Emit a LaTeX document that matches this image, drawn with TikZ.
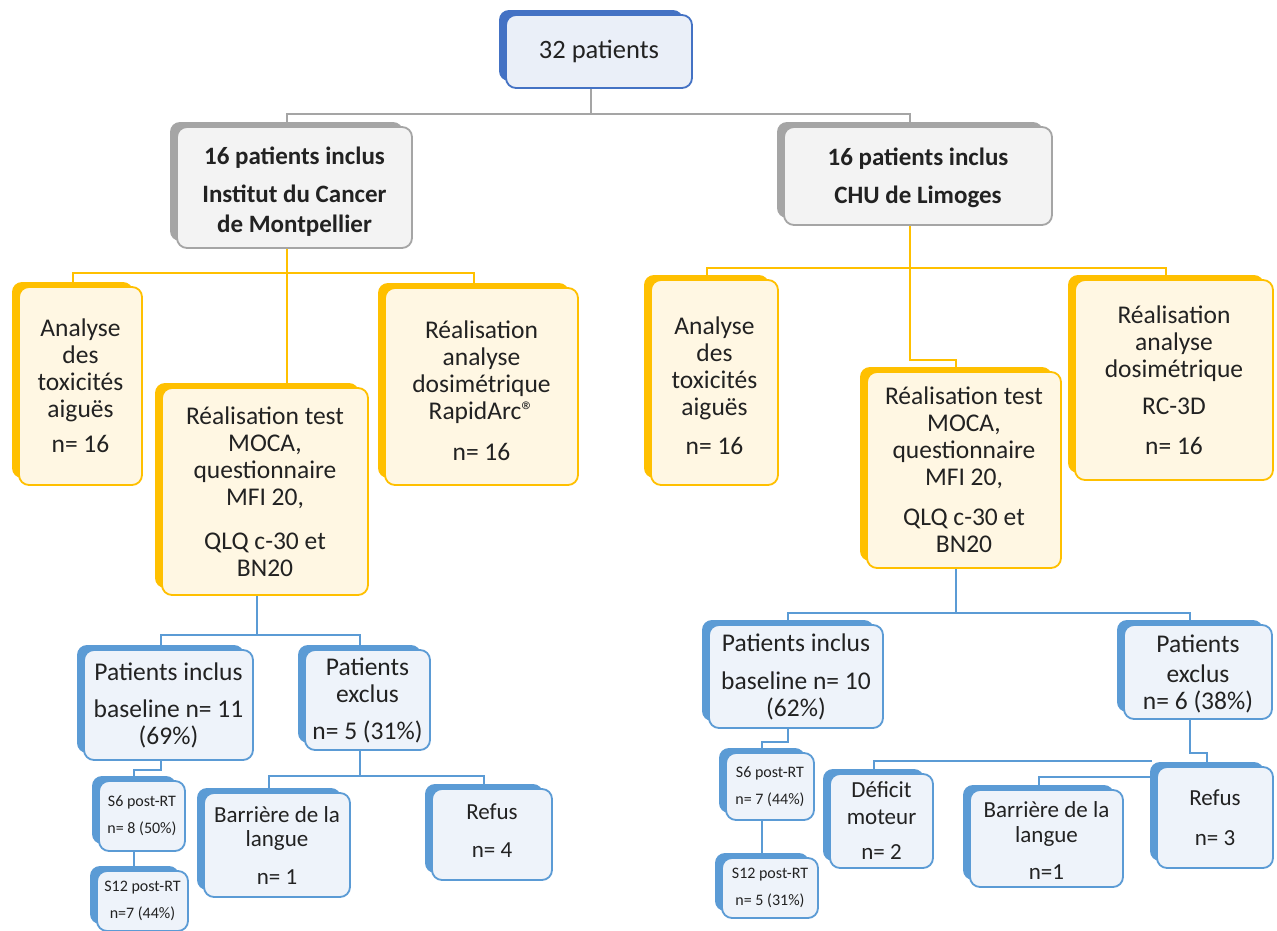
\documentclass[tikz,border=0pt]{standalone}
\usepackage{fontspec}
\setmainfont{Carlito}
\usetikzlibrary{calc,backgrounds}
\definecolor{gyD}{HTML}{A5A5A5}
\definecolor{gyL}{HTML}{F3F3F3}
\definecolor{buD}{HTML}{4472C4}
\definecolor{buL}{HTML}{EAEFF8}
\definecolor{ywD}{HTML}{FFC000}
\definecolor{ywL}{HTML}{FFF7E3}
\definecolor{lbD}{HTML}{5B9BD5}
\definecolor{lbL}{HTML}{EEF3FA}
\definecolor{txt}{HTML}{222222}
\newcommand\fT{\fontsize{26.5}{30}\selectfont}
\newcommand\fB{\fontsize{25}{30}\selectfont\bfseries}
\newcommand\fM{\fontsize{25.5}{27}\selectfont}
\newcommand\fN{\fontsize{23}{25}\selectfont}
\newcommand\fS{\fontsize{16}{27}\selectfont}
\tikzset{
  boxback/.style={rectangle, rounded corners=10pt, inner sep=0pt, outer sep=0pt, fill=#1},
  boxfront/.style={rectangle, rounded corners=10pt, inner sep=0pt, outer sep=0pt, draw=#1, line width=1.8pt},
  gline/.style={draw=gyD, line width=2pt},
  yline/.style={draw=ywD, line width=2pt},
  bline/.style={draw=lbD, line width=2pt},
}
\newcommand\mybox[9][0]{%
  \node[boxback=#3D, anchor=north west, minimum width={#6-#4-9}, minimum height={#7-#5-7}] (#2b) at (#4,#5) {};
  \node[boxfront=#3D, fill=#3L, anchor=north west, minimum width={#6-#4-7}, minimum height={#7-#5-5}] (#2) at ({#4+7},{#5+5}) {};
  \node[font=#8, text=txt, align=center, inner sep=0pt, yshift=-#1pt] (#2t) at (#2.center) {#9};
}
\begin{document}
\begin{tikzpicture}[x=1pt,y=-1pt]
\useasboundingbox (0,0) rectangle (1277,930);

\mybox{top}{bu}{499}{10}{692}{88}{\fT}{32 patients}
\mybox[4]{mont}{gy}{170}{122}{412}{248}{\fB}{16 patients inclus\\[8pt]Institut du Cancer\\de Montpellier}
\mybox[2]{lim}{gy}{777}{122}{1052}{225}{\fB}{16 patients inclus\\[8pt]CHU de Limoges}

\mybox{anaL}{yw}{12}{282}{142}{485}{\fM}{Analyse\\des\\toxicités\\aiguës\\[8pt]n= 16}
\mybox{mocaL}{yw}{155}{383}{368}{595}{\fM}{Réalisation test\\MOCA,\\questionnaire\\MFI 20,\\[17pt]QLQ c-30 et\\BN20}
\mybox[4]{rapid}{yw}{378}{283}{578}{485}{\fM}{Réalisation\\analyse\\dosimétrique\\RapidArc®\\[14pt]n= 16}
\mybox[3]{anaR}{yw}{644}{275}{778}{485}{\fM}{Analyse\\des\\toxicités\\aiguës\\[12pt]n= 16}
\mybox{mocaR}{yw}{860}{367}{1061}{568}{\fM}{Réalisation test\\MOCA,\\questionnaire\\MFI 20,\\[13pt]QLQ c-30 et\\BN20}
\mybox{rc}{yw}{1068}{275}{1273}{480}{\fM}{Réalisation\\analyse\\dosimétrique\\[10pt]RC-3D\\[13pt]n= 16}

\mybox{piL}{lb}{77}{645}{253}{760}{\fM}{Patients inclus\\[10pt]baseline n= 11\\(69\%)}
\mybox{peL}{lb}{298}{645}{430}{750}{\fM}{Patients\\exclus\\[10pt]n= 5 (31\%)}
\mybox{s6L}{lb}{92}{776}{185}{851}{\fS}{S6 post-RT\\n= 8 (50\%)}
\mybox{s12L}{lb}{90}{866}{188}{931}{\fS}{S12 post-RT\\n=7 (44\%)}
\mybox{barL}{lb}{197}{788}{350}{897}{\fN}{Barrière de la\\langue\\[12pt]n= 1}
\mybox[-4]{refL}{lb}{425}{784}{552}{880}{\fN}{Refus\\[13pt]n= 4}

\mybox{piR}{lb}{702}{620}{883}{728}{\fM}{Patients inclus\\[11pt]baseline n= 10\\(62\%)}
\mybox[2]{peR}{lb}{1117}{620}{1272}{719}{\fM}{Patients\\[3pt]exclus\\n= 6 (38\%)}
\mybox{s6R}{lb}{719}{748}{814}{820}{\fS}{S6 post-RT\\n= 7 (44\%)}
\mybox{s12R}{lb}{715}{853}{818}{918}{\fS}{S12 post-RT\\n= 5 (31\%)}
\mybox{def}{lb}{823}{769}{933}{868}{\fN}{Déficit\\[2pt]moteur\\[10pt]n= 2}
\mybox[2]{barR}{lb}{963}{785}{1123}{887}{\fN}{Barrière de la\\langue\\[12pt]n=1}
\mybox{refR}{lb}{1150}{762}{1273}{868}{\fN}{Refus\\[15pt]n= 3}

\coordinate (hd) at (1152,761);
\coordinate (hb) at (1152,777);

\begin{pgfonlayer}{background}
  \fill[white] (0,0) rectangle (1277,930);
  % grey
  \draw[gline] (topb.south) |- ($(montb.north)+(0,-8)$) -- (montb.north);
  \draw[gline] (topb.south) |- ($(limb.north)+(0,-8)$) -- (limb.north);
  % yellow left
  \draw[yline] (montb.south) -- (montb.south |- mocaLb.north);
  \draw[yline] (anaLb.north) |- ($(montb.south)+(0,32)$) -| (rapidb.north);
  % yellow right
  \draw[yline] (limb.south) |- ($(mocaRb.north)+(0,-7)$) -- (mocaRb.north);
  \draw[yline] (anaRb.north) |- ($(limb.south)+(0,50)$) -| (rcb.north);
  % blue left
  \draw[bline] (mocaLb.south) |- ($(piLb.north)+(0,-10)$) -- (piLb.north);
  \draw[bline] (mocaLb.south) |- ($(peLb.north)+(0,-10)$) -- (peLb.north);
  \draw[bline] (piLb.south) |- ($(s6Lb.north)+(0,-6)$) -- (s6Lb.north);
  \draw[bline] (s6Lb.south) -- (s6Lb.south |- s12Lb.north);
  \draw[bline] (peLb.south) |- ($(barLb.north)+(0,-12)$) -- (barLb.north);
  \draw[bline] (peLb.south) |- ($(refLb.north)+(0,-8)$) -- (refLb.north);
  % blue right
  \draw[bline] (mocaRb.south) |- ($(piRb.north)+(0,-7)$) -- (piRb.north);
  \draw[bline] (mocaRb.south) |- ($(peRb.north)+(0,-7)$) -- (peRb.north);
  \draw[bline] (piRb.south) |- ($(s6Rb.north)+(0,-6)$) -- (s6Rb.north);
  \draw[bline] (s6Rb.south) -- (s6Rb.south |- s12Rb.north);
  \draw[bline] (peRb.south) |- ($(refRb.north)+(0,-9)$) -- (refRb.north);
  \draw[bline] (hd) -| (defb.north);
  \draw[bline] (hb) -| (barRb.north);
\end{pgfonlayer}
\end{tikzpicture}
\end{document}
